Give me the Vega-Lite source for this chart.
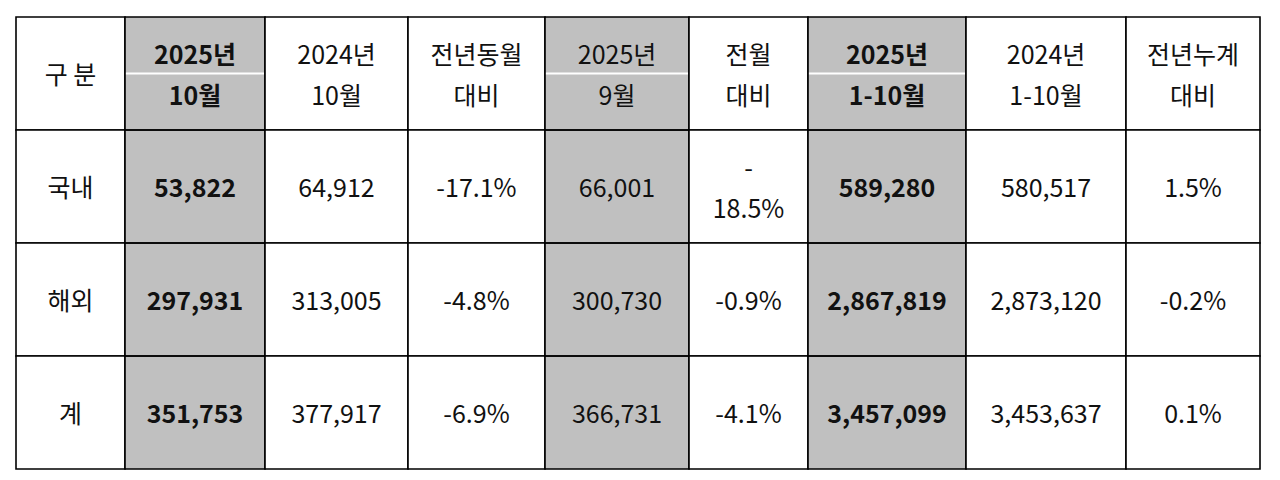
{
  "$schema": "https://vega.github.io/schema/vega-lite/v6.json",
  "background": "white",
  "padding": {"left": 15, "top": 16, "right": 0, "bottom": 0},
  "spacing": 0,
  "bounds": "flush",
  "config": {"view": {"stroke": null}, "concat": {"spacing": 0}},
  "datasets": {
    "cells": [
      {"col": "c1", "row": "header", "text": "구 분"},
      {"col": "c1", "row": "국내", "text": "국내"},
      {"col": "c1", "row": "해외", "text": "해외"},
      {"col": "c1", "row": "계", "text": "계"},
      {"col": "c2", "row": "header", "text": "2025년\n10월"},
      {"col": "c2", "row": "국내", "text": "53,822"},
      {"col": "c2", "row": "해외", "text": "297,931"},
      {"col": "c2", "row": "계", "text": "351,753"},
      {"col": "c3", "row": "header", "text": "2024년\n10월"},
      {"col": "c3", "row": "국내", "text": "64,912"},
      {"col": "c3", "row": "해외", "text": "313,005"},
      {"col": "c3", "row": "계", "text": "377,917"},
      {"col": "c4", "row": "header", "text": "전년동월\n대비"},
      {"col": "c4", "row": "국내", "text": "-17.1%"},
      {"col": "c4", "row": "해외", "text": "-4.8%"},
      {"col": "c4", "row": "계", "text": "-6.9%"},
      {"col": "c5", "row": "header", "text": "2025년\n9월"},
      {"col": "c5", "row": "국내", "text": "66,001"},
      {"col": "c5", "row": "해외", "text": "300,730"},
      {"col": "c5", "row": "계", "text": "366,731"},
      {"col": "c6", "row": "header", "text": "전월\n대비"},
      {"col": "c6", "row": "국내", "text": "-\n18.5%"},
      {"col": "c6", "row": "해외", "text": "-0.9%"},
      {"col": "c6", "row": "계", "text": "-4.1%"},
      {"col": "c7", "row": "header", "text": "2025년\n1-10월"},
      {"col": "c7", "row": "국내", "text": "589,280"},
      {"col": "c7", "row": "해외", "text": "2,867,819"},
      {"col": "c7", "row": "계", "text": "3,457,099"},
      {"col": "c8", "row": "header", "text": "2024년\n1-10월"},
      {"col": "c8", "row": "국내", "text": "580,517"},
      {"col": "c8", "row": "해외", "text": "2,873,120"},
      {"col": "c8", "row": "계", "text": "3,453,637"},
      {"col": "c9", "row": "header", "text": "전년누계\n대비"},
      {"col": "c9", "row": "국내", "text": "1.5%"},
      {"col": "c9", "row": "해외", "text": "-0.2%"},
      {"col": "c9", "row": "계", "text": "0.1%"}
    ]
  },
  "hconcat": [
    {
      "width": 109, "height": 452,
      "data": {"name": "cells"},
      "transform": [{"filter": "datum.col == 'c1'"}],
      "encoding": {"y": {"field": "row", "type": "nominal", "sort": ["header", "국내", "해외", "계"], "axis": null, "scale": {"paddingInner": 0, "paddingOuter": 0}}},
      "layer": [
        {"mark": {"type": "rect", "fill": "white", "stroke": "black", "strokeWidth": 1.6}},
        {"transform": [{"filter": "indexof(datum.text, '\\n') < 0"}], "mark": {"type": "text", "font": "Noto Sans CJK KR", "fontSize": 25, "color": "#111", "dy": 2}, "encoding": {"text": {"field": "text"}}},
        {"transform": [{"filter": "indexof(datum.text, '\\n') >= 0"}], "mark": {"type": "text", "font": "Noto Sans CJK KR", "fontSize": 25, "color": "#111", "lineBreak": "\n", "lineHeight": 41, "dy": -18}, "encoding": {"text": {"field": "text"}}}
      ]
    },
    {
      "width": 140, "height": 452,
      "data": {"name": "cells"},
      "transform": [{"filter": "datum.col == 'c2'"}],
      "encoding": {"y": {"field": "row", "type": "nominal", "sort": ["header", "국내", "해외", "계"], "axis": null, "scale": {"paddingInner": 0, "paddingOuter": 0}}},
      "layer": [
        {"mark": {"type": "rect", "fill": "#c0c0c0"}},
        {"transform": [{"filter": "datum.row == 'header'"}], "mark": {"type": "rule", "color": "white", "strokeWidth": 2}, "encoding": {"y": {"field": "row", "type": "nominal", "bandPosition": 0.5}}},
        {"mark": {"type": "rect", "fill": null, "stroke": "black", "strokeWidth": 1.6}},
        {"transform": [{"filter": "indexof(datum.text, '\\n') < 0"}], "mark": {"type": "text", "font": "Noto Sans CJK KR", "fontSize": 25, "fontWeight": "bold", "color": "#111", "dy": 2}, "encoding": {"text": {"field": "text"}}},
        {"transform": [{"filter": "indexof(datum.text, '\\n') >= 0"}], "mark": {"type": "text", "font": "Noto Sans CJK KR", "fontSize": 25, "fontWeight": "bold", "color": "#111", "lineBreak": "\n", "lineHeight": 41, "dy": -18}, "encoding": {"text": {"field": "text"}}}
      ]
    },
    {
      "width": 143, "height": 452,
      "data": {"name": "cells"},
      "transform": [{"filter": "datum.col == 'c3'"}],
      "encoding": {"y": {"field": "row", "type": "nominal", "sort": ["header", "국내", "해외", "계"], "axis": null, "scale": {"paddingInner": 0, "paddingOuter": 0}}},
      "layer": [
        {"mark": {"type": "rect", "fill": "white", "stroke": "black", "strokeWidth": 1.6}},
        {"transform": [{"filter": "indexof(datum.text, '\\n') < 0"}], "mark": {"type": "text", "font": "Noto Sans CJK KR", "fontSize": 25, "color": "#111", "dy": 2}, "encoding": {"text": {"field": "text"}}},
        {"transform": [{"filter": "indexof(datum.text, '\\n') >= 0"}], "mark": {"type": "text", "font": "Noto Sans CJK KR", "fontSize": 25, "color": "#111", "lineBreak": "\n", "lineHeight": 41, "dy": -18}, "encoding": {"text": {"field": "text"}}}
      ]
    },
    {
      "width": 137, "height": 452,
      "data": {"name": "cells"},
      "transform": [{"filter": "datum.col == 'c4'"}],
      "encoding": {"y": {"field": "row", "type": "nominal", "sort": ["header", "국내", "해외", "계"], "axis": null, "scale": {"paddingInner": 0, "paddingOuter": 0}}},
      "layer": [
        {"mark": {"type": "rect", "fill": "white", "stroke": "black", "strokeWidth": 1.6}},
        {"transform": [{"filter": "indexof(datum.text, '\\n') < 0"}], "mark": {"type": "text", "font": "Noto Sans CJK KR", "fontSize": 25, "color": "#111", "dy": 2}, "encoding": {"text": {"field": "text"}}},
        {"transform": [{"filter": "indexof(datum.text, '\\n') >= 0"}], "mark": {"type": "text", "font": "Noto Sans CJK KR", "fontSize": 25, "color": "#111", "lineBreak": "\n", "lineHeight": 41, "dy": -18}, "encoding": {"text": {"field": "text"}}}
      ]
    },
    {
      "width": 144, "height": 452,
      "data": {"name": "cells"},
      "transform": [{"filter": "datum.col == 'c5'"}],
      "encoding": {"y": {"field": "row", "type": "nominal", "sort": ["header", "국내", "해외", "계"], "axis": null, "scale": {"paddingInner": 0, "paddingOuter": 0}}},
      "layer": [
        {"mark": {"type": "rect", "fill": "#c0c0c0"}},
        {"transform": [{"filter": "datum.row == 'header'"}], "mark": {"type": "rule", "color": "white", "strokeWidth": 2}, "encoding": {"y": {"field": "row", "type": "nominal", "bandPosition": 0.5}}},
        {"mark": {"type": "rect", "fill": null, "stroke": "black", "strokeWidth": 1.6}},
        {"transform": [{"filter": "indexof(datum.text, '\\n') < 0"}], "mark": {"type": "text", "font": "Noto Sans CJK KR", "fontSize": 25, "color": "#111", "dy": 2}, "encoding": {"text": {"field": "text"}}},
        {"transform": [{"filter": "indexof(datum.text, '\\n') >= 0"}], "mark": {"type": "text", "font": "Noto Sans CJK KR", "fontSize": 25, "color": "#111", "lineBreak": "\n", "lineHeight": 41, "dy": -18}, "encoding": {"text": {"field": "text"}}}
      ]
    },
    {
      "width": 119, "height": 452,
      "data": {"name": "cells"},
      "transform": [{"filter": "datum.col == 'c6'"}],
      "encoding": {"y": {"field": "row", "type": "nominal", "sort": ["header", "국내", "해외", "계"], "axis": null, "scale": {"paddingInner": 0, "paddingOuter": 0}}},
      "layer": [
        {"mark": {"type": "rect", "fill": "white", "stroke": "black", "strokeWidth": 1.6}},
        {"transform": [{"filter": "indexof(datum.text, '\\n') < 0"}], "mark": {"type": "text", "font": "Noto Sans CJK KR", "fontSize": 25, "color": "#111", "dy": 2}, "encoding": {"text": {"field": "text"}}},
        {"transform": [{"filter": "indexof(datum.text, '\\n') >= 0"}], "mark": {"type": "text", "font": "Noto Sans CJK KR", "fontSize": 25, "color": "#111", "lineBreak": "\n", "lineHeight": 41, "dy": -18}, "encoding": {"text": {"field": "text"}}}
      ]
    },
    {
      "width": 158, "height": 452,
      "data": {"name": "cells"},
      "transform": [{"filter": "datum.col == 'c7'"}],
      "encoding": {"y": {"field": "row", "type": "nominal", "sort": ["header", "국내", "해외", "계"], "axis": null, "scale": {"paddingInner": 0, "paddingOuter": 0}}},
      "layer": [
        {"mark": {"type": "rect", "fill": "#c0c0c0"}},
        {"transform": [{"filter": "datum.row == 'header'"}], "mark": {"type": "rule", "color": "white", "strokeWidth": 2}, "encoding": {"y": {"field": "row", "type": "nominal", "bandPosition": 0.5}}},
        {"mark": {"type": "rect", "fill": null, "stroke": "black", "strokeWidth": 1.6}},
        {"transform": [{"filter": "indexof(datum.text, '\\n') < 0"}], "mark": {"type": "text", "font": "Noto Sans CJK KR", "fontSize": 25, "fontWeight": "bold", "color": "#111", "dy": 2}, "encoding": {"text": {"field": "text"}}},
        {"transform": [{"filter": "indexof(datum.text, '\\n') >= 0"}], "mark": {"type": "text", "font": "Noto Sans CJK KR", "fontSize": 25, "fontWeight": "bold", "color": "#111", "lineBreak": "\n", "lineHeight": 41, "dy": -18}, "encoding": {"text": {"field": "text"}}}
      ]
    },
    {
      "width": 160, "height": 452,
      "data": {"name": "cells"},
      "transform": [{"filter": "datum.col == 'c8'"}],
      "encoding": {"y": {"field": "row", "type": "nominal", "sort": ["header", "국내", "해외", "계"], "axis": null, "scale": {"paddingInner": 0, "paddingOuter": 0}}},
      "layer": [
        {"mark": {"type": "rect", "fill": "white", "stroke": "black", "strokeWidth": 1.6}},
        {"transform": [{"filter": "indexof(datum.text, '\\n') < 0"}], "mark": {"type": "text", "font": "Noto Sans CJK KR", "fontSize": 25, "color": "#111", "dy": 2}, "encoding": {"text": {"field": "text"}}},
        {"transform": [{"filter": "indexof(datum.text, '\\n') >= 0"}], "mark": {"type": "text", "font": "Noto Sans CJK KR", "fontSize": 25, "color": "#111", "lineBreak": "\n", "lineHeight": 41, "dy": -18}, "encoding": {"text": {"field": "text"}}}
      ]
    },
    {
      "width": 134, "height": 452,
      "data": {"name": "cells"},
      "transform": [{"filter": "datum.col == 'c9'"}],
      "encoding": {"y": {"field": "row", "type": "nominal", "sort": ["header", "국내", "해외", "계"], "axis": null, "scale": {"paddingInner": 0, "paddingOuter": 0}}},
      "layer": [
        {"mark": {"type": "rect", "fill": "white", "stroke": "black", "strokeWidth": 1.6}},
        {"transform": [{"filter": "indexof(datum.text, '\\n') < 0"}], "mark": {"type": "text", "font": "Noto Sans CJK KR", "fontSize": 25, "color": "#111", "dy": 2}, "encoding": {"text": {"field": "text"}}},
        {"transform": [{"filter": "indexof(datum.text, '\\n') >= 0"}], "mark": {"type": "text", "font": "Noto Sans CJK KR", "fontSize": 25, "color": "#111", "lineBreak": "\n", "lineHeight": 41, "dy": -18}, "encoding": {"text": {"field": "text"}}}
      ]
    }
  ]
}
